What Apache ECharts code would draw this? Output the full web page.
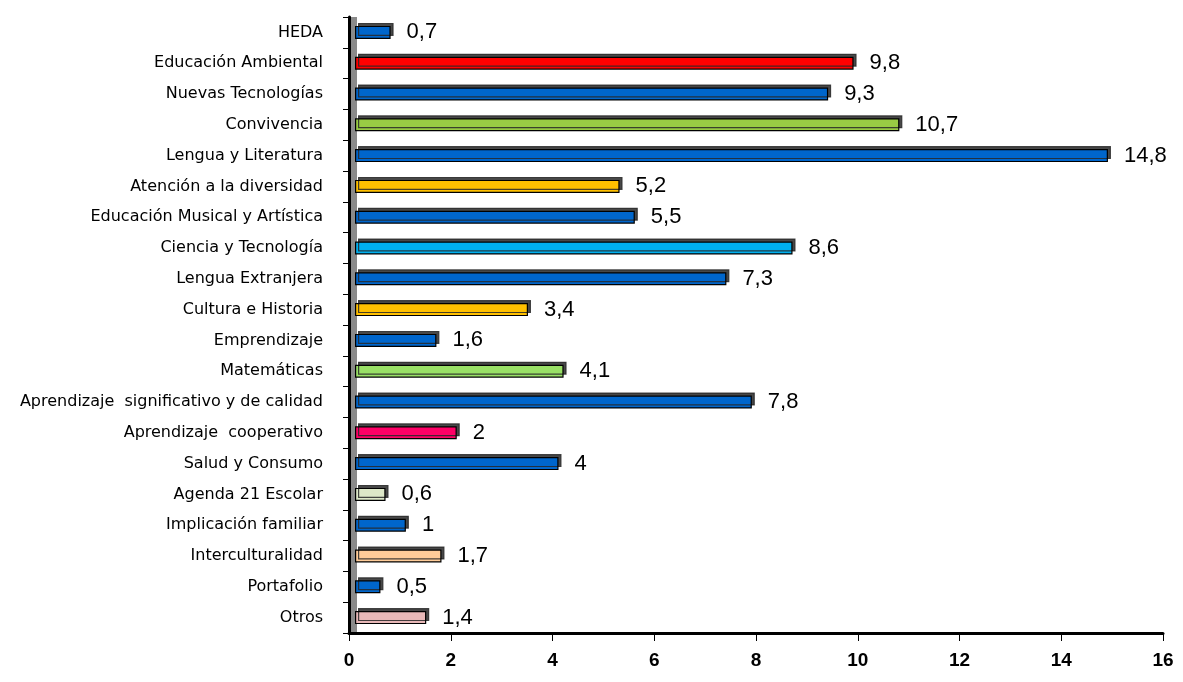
<!DOCTYPE html>
<html><head><meta charset="utf-8">
<script src="https://cdn.jsdelivr.net/npm/echarts@6/dist/echarts.min.js"></script>
<style>html,body{margin:0;padding:0;background:#fff}#c{width:1183px;height:682px}</style>
</head><body><div id="c"></div>
<script>
const categories = ["HEDA","Educación Ambiental","Nuevas Tecnologías","Convivencia","Lengua y Literatura","Atención a la diversidad","Educación Musical y Artística","Ciencia y Tecnología","Lengua Extranjera","Cultura e Historia","Emprendizaje","Matemáticas","Aprendizaje  significativo y de calidad","Aprendizaje  cooperativo","Salud y Consumo","Agenda 21 Escolar","Implicación familiar","Interculturalidad","Portafolio","Otros"];
const values = [0.7,9.8,9.3,10.7,14.8,5.2,5.5,8.6,7.3,3.4,1.6,4.1,7.8,2,4,0.6,1,1.7,0.5,1.4];
const barColors = ["#0066CC","#FF0000","#0066CC","#99CC44","#0066CC","#FFC000","#0066CC","#00B0F0","#0066CC","#FFC000","#0066CC","#99E066","#0066CC","#FF0066","#0066CC","#DDE8C8","#0066CC","#FFCC99","#0066CC","#E8B8B8"];
const xTicks = {min:0, max:16, interval:2};

const chart = echarts.init(document.getElementById('c'));
const depth = 6; // 3D depth offset of the bars
const option = {
  animation:false,
  backgroundColor:'#fff',
  grid:[{left:349,right:20,top:17,bottom:49},{left:349+depth,right:20-depth,top:17,bottom:49}],
  xAxis:[{type:'value',gridIndex:0,min:xTicks.min,max:xTicks.max,interval:xTicks.interval,
    splitLine:{show:false},
    axisLine:{show:true,lineStyle:{color:'#000',width:3}},
    axisTick:{show:true,length:8,lineStyle:{color:'#000',width:1}},
    axisLabel:{color:'#000',fontSize:19,fontWeight:'bold',fontFamily:'Liberation Sans',margin:18,
      formatter:v=>String(v)}},
    {type:'value',gridIndex:1,min:xTicks.min,max:xTicks.max,show:false,splitLine:{show:false}}],
  yAxis:[{type:'category',gridIndex:0,data:categories,inverse:true,
    axisLine:{show:true,lineStyle:{color:'#000',width:3}},
    axisTick:{show:true,length:6,lineStyle:{color:'#000',width:1}},
    axisLabel:{color:'#000',fontSize:16,fontFamily:'DejaVu Sans',margin:26}},
    {type:'category',gridIndex:1,data:categories,inverse:true,show:false}],
  series:[{type:'bar',xAxisIndex:1,yAxisIndex:1,barWidth:13,
    data:values.map((v,i)=>({value:v,itemStyle:{color:barColors[i]}})),
    itemStyle:{borderColor:'#000',borderWidth:1.2,shadowColor:'rgba(40,40,40,0.85)',shadowBlur:0,shadowOffsetX:3,shadowOffsetY:-3},
    label:{show:true,position:'right',distance:16,color:'#000',fontSize:22,fontFamily:'Liberation Sans',
      formatter:p=>String(p.value).replace('.',',')}
  }]
};
chart.setOption(option);
// grey side wall next to the value axis origin
const p0 = chart.convertToPixel({xAxisIndex:0},0);
const gTop = 17, gBottom = 682-49;
chart.setOption({graphic:[{type:'rect',z:-1,shape:{x:p0+1,y:gTop,width:7,height:gBottom-gTop},style:{fill:'#8a8a8a'}}]});
</script></body></html>
